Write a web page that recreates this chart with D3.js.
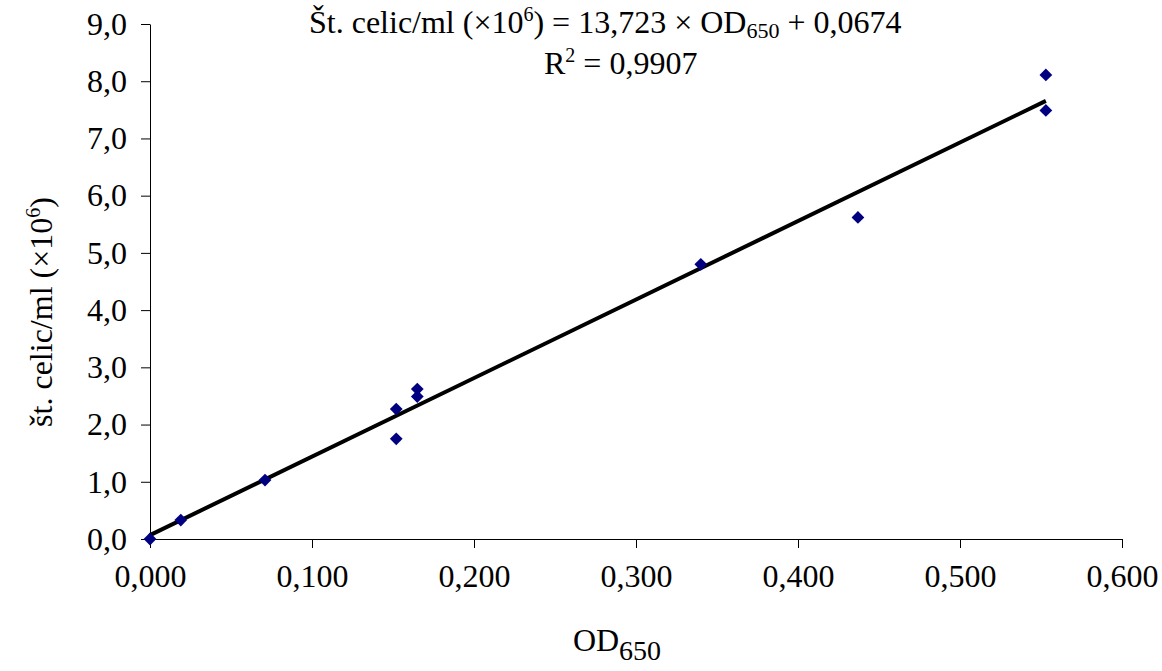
<!DOCTYPE html>
<html>
<head>
<meta charset="utf-8">
<script src="https://cdn.jsdelivr.net/npm/d3@7"></script>
<style>
  body { margin: 0; background: #fff; }
  text { font-family: "Liberation Serif", "Times New Roman", serif; fill: #000; }
</style>
</head>
<body>
<div id="chart"></div>
<script>
var odValues    = [0.000, 0.019, 0.071, 0.152, 0.152, 0.165, 0.165, 0.340, 0.437, 0.553, 0.553];
var cellValues  = [0.00, 0.33, 1.03, 2.27, 1.75, 2.49, 2.62, 4.80, 5.62, 8.11, 7.49];
var xTicks = [0, 0.1, 0.2, 0.3, 0.4, 0.5, 0.6];
var yTicks = [0, 1, 2, 3, 4, 5, 6, 7, 8, 9];
var slope = 13.723, intercept = 0.0674, r2 = "0,9907";

var width = 1162, height = 671;
var margin = {left: 150, right: 40, top: 24, bottom: 132};
var fs = 32;

var locale = d3.formatLocale({decimal: ",", thousands: ".", grouping: [3], currency: ["", ""]});

var svg = d3.select("#chart").append("svg")
    .attr("width", width)
    .attr("height", height);

var x = d3.scaleLinear().domain([0, 0.6]).range([margin.left, width - margin.right]);
var y = d3.scaleLinear().domain([0, 9]).range([height - margin.bottom, margin.top]);

var xAxis = d3.axisBottom(x).tickValues(xTicks).tickSize(9).tickSizeOuter(0)
    .tickPadding(16).tickFormat(locale.format(".3f"));
var yAxis = d3.axisLeft(y).tickValues(yTicks).tickSize(9).tickSizeOuter(0)
    .tickPadding(14).tickFormat(locale.format(".1f"));

var gx = svg.append("g")
    .attr("transform", "translate(0," + y(0) + ")")
    .call(xAxis);
var gy = svg.append("g")
    .attr("transform", "translate(" + x(0) + ",0)")
    .call(yAxis);

[gx, gy].forEach(function(g) {
  g.selectAll("path, line").attr("stroke", "#000").attr("stroke-width", 1);
  g.selectAll("text").style("font-size", fs + "px").attr("fill", "#000")
    .style("font-family", "'Liberation Serif', serif");
});

// regression line
var xMax = d3.max(odValues);
svg.append("line")
    .attr("x1", x(0)).attr("y1", y(intercept))
    .attr("x2", x(xMax)).attr("y2", y(slope * xMax + intercept))
    .attr("stroke", "#000")
    .attr("stroke-width", 4);

// points
var pts = odValues.map(function(d, i) { return {od: d, cells: cellValues[i]}; });
svg.selectAll(".pt")
    .data(pts)
  .enter().append("path")
    .attr("class", "pt")
    .attr("d", d3.symbol().type(d3.symbolDiamond2).size(104))
    .attr("transform", function(d) { return "translate(" + x(d.od) + "," + y(d.cells) + ")"; })
    .attr("fill", "#000080");

// equation
var eq = svg.append("text")
    .attr("x", 309).attr("y", 33)
    .style("font-size", fs + "px");
eq.append("tspan").text("Št. celic/ml (×10");
eq.append("tspan").attr("dy", -12).style("font-size", "20px").text("6");
eq.append("tspan").attr("dy", 12).text(") = 13,723 × OD");
eq.append("tspan").attr("dy", 5).style("font-size", "22px").text("650");
eq.append("tspan").attr("dy", -5).text(" + 0,0674");

var rt = svg.append("text")
    .attr("x", 544).attr("y", 74)
    .style("font-size", fs + "px");
rt.append("tspan").text("R");
rt.append("tspan").attr("dy", -12).style("font-size", "20px").text("2");
rt.append("tspan").attr("dy", 12).text(" = " + r2);

// axis titles
var xt = svg.append("text")
    .attr("x", 617).attr("y", 651)
    .attr("text-anchor", "middle")
    .style("font-size", fs + "px");
xt.append("tspan").text("OD");
xt.append("tspan").attr("dy", 9).style("font-size", "28px").text("650");

var yt = svg.append("text")
    .attr("transform", "translate(52," + 312 + ") rotate(-90)")
    .attr("text-anchor", "middle")
    .style("font-size", fs + "px");
yt.append("tspan").text("št. celic/ml (×10");
yt.append("tspan").attr("dy", -12).style("font-size", "20px").text("6");
yt.append("tspan").attr("dy", 12).text(")");
</script>
</body>
</html>
